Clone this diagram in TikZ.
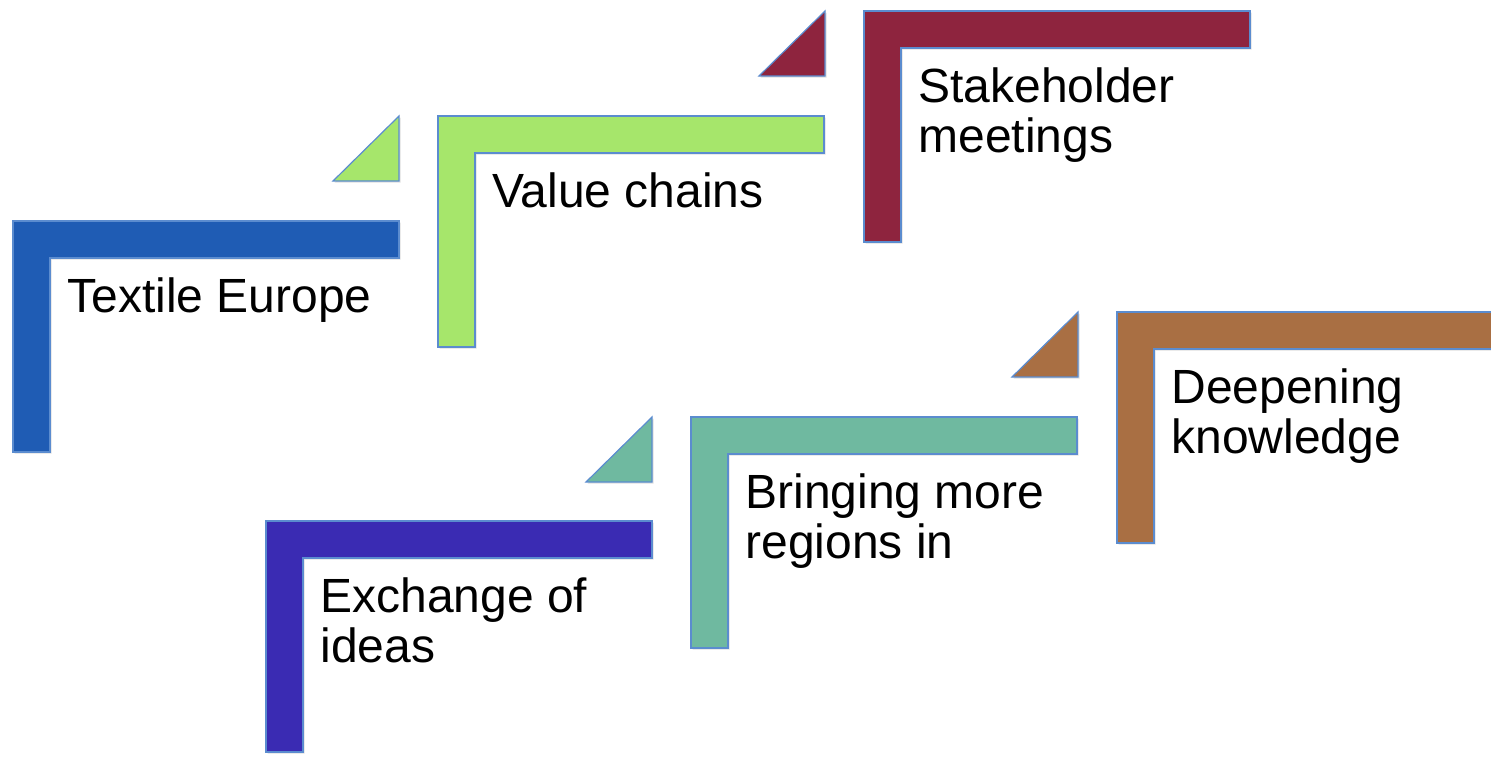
\documentclass[tikz,border=0pt]{standalone}
\usepackage{fontspec}
\setmainfont{Liberation Sans}
\usetikzlibrary{shadows}

\definecolor{rim}{HTML}{5B8CCF}
\definecolor{textblue}{HTML}{1F5CB4}
\definecolor{valuegreen}{HTML}{A6E66B}
\definecolor{stakered}{HTML}{8E243E}
\definecolor{ideaviolet}{HTML}{3A2BB3}
\definecolor{regionteal}{HTML}{6FB9A0}
\definecolor{deepbrown}{HTML}{A96F43}

\begin{document}
\begin{tikzpicture}[x=0.5pt,y=-0.5pt,
	bar/.style={fill=#1,draw=rim,line width=0.6pt,
		drop shadow={opacity=0.25,shadow xshift=0.8pt,shadow yshift=-0.8pt}},
	caption/.style={anchor=base west,inner sep=0pt,
		font=\fontsize{24}{25}\selectfont}]
	\clip (0,0) rectangle (1491,756);
	% corner, its text and the small wedge in front of it
	\foreach \x/\y/\col/\name/\txt/\tri in {
		13/221/textblue/textile/{Textile Europe}/0,
		438/116/valuegreen/value/{Value chains}/1,
		864/11/stakered/stake/{Stakeholder\\meetings}/1,
		266/521/ideaviolet/exchange/{Exchange of\\ideas}/0,
		691/417/regionteal/regions/{Bringing more\\regions in}/1,
		1117/312/deepbrown/deepen/{Deepening\\knowledge}/1}
	{
		\ifnum\tri=1
			\draw[bar=\col] (\x-105,\y+65) -- (\x-39,\y) -- (\x-39,\y+65) -- cycle;
		\fi
		\draw[bar=\col] (\x,\y) -- ++(386,0) -- ++(0,37) -- ++(-349,0)
			-- ++(0,194) -- ++(-37,0) -- cycle;
		\node[caption] (\name) at (\x+54,\y+91)
			{\begin{tabular}[t]{@{}l@{}}\txt\end{tabular}};
	}
\end{tikzpicture}
\end{document}
